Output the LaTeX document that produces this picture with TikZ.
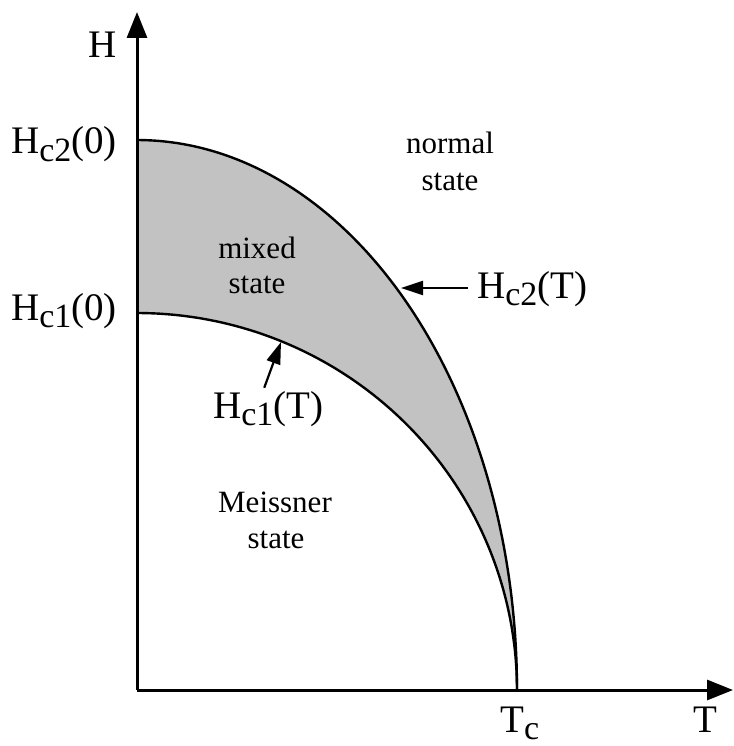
\documentclass[tikz,border=0pt]{standalone}
\usepackage{fontspec}
\setmainfont{Liberation Serif}
\usetikzlibrary{arrows.meta}
\newcommand\subcx[1]{\raisebox{-7pt}{\fontsize{34}{36}\selectfont #1}}
\begin{document}
\begin{tikzpicture}[x=1pt,y=-1pt,
  lab/.style={font=\fontsize{39}{42}\selectfont, inner sep=0pt, anchor=base west},
  st/.style={font=\fontsize{31}{36}\selectfont, inner sep=0pt, anchor=base},
  axis/.style={line width=3pt, -{Triangle[length=26pt,width=20pt]}},
  curve/.style={line width=2.4pt},
  ptr/.style={line width=2.2pt, -{Triangle[length=22pt,width=14pt]}},
  mixfill/.style={fill=black!24}]
\useasboundingbox (0,0) rectangle (733,746);
\coordinate (O) at (137,690);
\coordinate (Ytip) at (137,12);
\coordinate (Xtip) at (733,690);
\coordinate (Tcpt) at (517,690);
% mixed region
\fill[mixfill] (137,140)
  -- plot[domain=0:90, samples=120] ({137+380*sin(\x)}, {690-550*cos(\x)})
  -- plot[domain=90:0, samples=120] ({137+380*sin(\x)}, {690-377*cos(\x)})
  -- cycle;
% curves
\draw[curve] plot[domain=0:90, samples=120] ({137+380*sin(\x)}, {690-550*cos(\x)});
\draw[curve] plot[domain=0:90, samples=120] ({137+380*sin(\x)}, {690-377*cos(\x)});
% axes
\draw[axis] (O) -- (Ytip);
\draw[axis] (O) -- (Xtip);
% labels
\node[lab] (H) at (88,58) {H};
\node[lab] (Hc20) at (11,154) {H\subcx{c2}(0)};
\node[lab] (Hc10) at (11,320) {H\subcx{c1}(0)};
\node[lab] (Tc) at (500,732) {T\subcx{c}};
\node[lab] (T) at (693,732) {T};
\node[lab] (Hc2T) at (477,298) {H\subcx{c2}(T)};
\node[lab] (Hc1T) at (213,418) {H\subcx{c1}(T)};
\node[st] (normal) at (450,154) {normal};
\node[st] (normalst) at (450,190) {state};
\node[st] (mixed) at (257,258) {mixed};
\node[st] (mixedst) at (257,293) {state};
\node[st] (meis) at (275,512) {Meissner};
\node[st] (meisst) at (276,548) {state};
% pointers
\coordinate (p2) at (401,288);
\coordinate (p1) at (281,342);
\draw[ptr] ([xshift=-9pt]Hc2T.west |- p2) -- (p2);
\draw[ptr] ([xshift=-4pt,yshift=3pt]Hc1T.north) -- (p1);
\end{tikzpicture}
\end{document}
